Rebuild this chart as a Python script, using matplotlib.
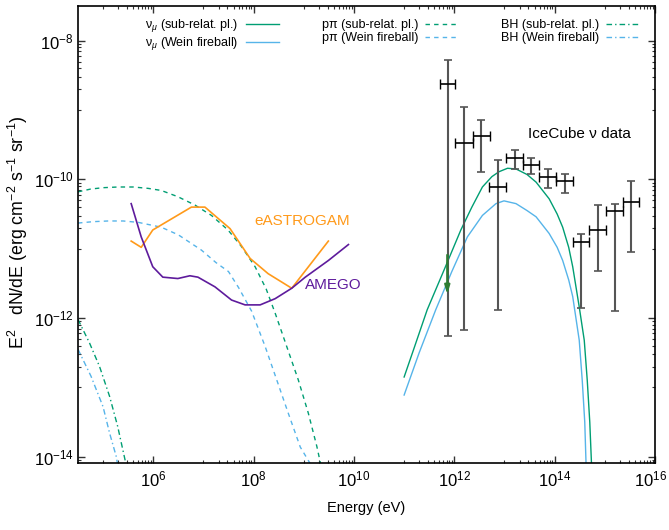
import numpy as np
import matplotlib
matplotlib.use("Agg")
import matplotlib.pyplot as plt
from matplotlib.ticker import NullFormatter
from matplotlib.transforms import ScaledTranslation

plt.rcParams["font.family"] = ["Liberation Sans", "DejaVu Sans"]
plt.rcParams["mathtext.fontset"] = "custom"
plt.rcParams["mathtext.rm"] = "Liberation Sans"
plt.rcParams["mathtext.it"] = "Liberation Sans:italic"
plt.rcParams["mathtext.sf"] = "Liberation Sans"

GREEN = "#009e73"
BLUE = "#56b4e9"
ORANGE = "#ff9a1a"
PURPLE = "#5e1b9c"

# ---- model curves: log10(E/eV), log10(E^2 dN/dE) ----
nu_sub_logE = [11.0, 11.2, 11.46, 11.8, 12.13, 12.35, 12.56, 12.75, 12.89, 13.06, 13.23,
               13.45, 13.63, 13.89, 14.05, 14.16, 14.28, 14.36, 14.49, 14.59, 14.65, 14.7, 14.74]
nu_sub_logF = [-12.85, -12.43, -11.88, -11.3, -10.73, -10.4, -10.11, -9.96, -9.89, -9.84, -9.85,
               -9.93, -10.04, -10.28, -10.5, -10.69, -10.98, -11.26, -11.84, -12.32, -12.9, -13.5, -14.2]

nu_wein_logE = [11.0, 11.3, 11.63, 11.95, 12.26, 12.56, 12.83, 12.99, 13.23, 13.45, 13.63,
                13.89, 14.05, 14.16, 14.28, 14.36, 14.49, 14.55, 14.6, 14.63]
nu_wein_logF = [-13.11, -12.5, -11.88, -11.33, -10.83, -10.52, -10.35, -10.31, -10.35, -10.45, -10.54,
                -10.78, -10.98, -11.17, -11.45, -11.69, -12.32, -12.9, -13.5, -14.2]

ppi_sub_logE = [4.5, 4.75, 5.0, 5.3, 5.6, 5.9, 6.16, 6.49, 6.83, 7.16, 7.49, 7.76, 8.03,
                8.25, 8.43, 8.66, 8.89, 9.09, 9.26, 9.35]
ppi_sub_logF = [-10.18, -10.14, -10.12, -10.11, -10.11, -10.13, -10.16, -10.25, -10.37, -10.52,
                -10.73, -10.97, -11.26, -11.58, -11.93, -12.41, -12.89, -13.37, -13.85, -14.15]

ppi_wein_logE = [4.5, 4.8, 5.1, 5.4, 5.7, 6.16, 6.5, 6.96, 7.25, 7.5, 7.7, 7.96, 8.23,
                 8.46, 8.69, 8.93, 9.17]
ppi_wein_logF = [-10.63, -10.61, -10.6, -10.6, -10.62, -10.69, -10.8, -11.02, -11.2, -11.33,
                 -11.56, -11.9, -12.41, -12.89, -13.37, -13.86, -14.15]

bh_sub_logE = [4.5, 4.73, 4.93, 5.13, 5.29, 5.43, 5.47]
bh_sub_logF = [-12.02, -12.36, -12.7, -13.13, -13.56, -14.02, -14.15]

bh_wein_logE = [4.5, 4.76, 5.0, 5.13, 5.26, 5.3]
bh_wein_logF = [-12.45, -12.84, -13.28, -13.66, -13.99, -14.15]

# ---- instrument sensitivities ----
eastrogam_logE = [5.56, 5.76, 5.99, 6.76, 7.03, 7.53, 7.93, 8.29, 8.76, 9.49]
eastrogam_logF = [-10.89, -10.98, -10.73, -10.40, -10.40, -10.71, -11.14, -11.36, -11.57, -10.89]

amego_logE = [5.56, 5.76, 5.99, 6.19, 6.49, 6.73, 6.89, 7.23, 7.56, 7.83, 8.13,
              8.43, 8.76, 9.03, 9.49, 9.89]
amego_logF = [-10.35, -10.83, -11.26, -11.41, -11.43, -11.39, -11.41, -11.55, -11.74, -11.81,
              -11.81, -11.72, -11.57, -11.41, -11.17, -10.94]

# ---- IceCube neutrino data (log10 values) ----
ic_logE = [11.87, 12.20, 12.53, 12.87, 13.20, 13.53, 13.87, 14.20, 14.53, 14.87, 15.20, 15.53]
ic_logE_lo = [11.71, 12.02, 12.37, 12.69, 13.04, 13.36, 13.69, 14.03, 14.36, 14.69, 15.03, 15.36]
ic_logE_hi = [12.02, 12.37, 12.71, 13.04, 13.36, 13.69, 14.03, 14.36, 14.68, 15.03, 15.36, 15.69]
ic_logF = [-8.62, -9.48, -9.38, -10.11, -9.69, -9.79, -9.96, -10.02, -10.90, -10.73, -10.46, -10.32]
ic_logF_lo = [-12.26, -12.17, -9.89, -11.88, -9.85, -9.92, -10.13, -10.19, -11.85, -11.32, -11.90, -11.05]
ic_logF_hi = [-8.28, -8.95, -9.14, -9.72, -9.57, -9.69, -9.85, -9.92, -10.79, -10.37, -10.36, -10.02]

# upper-limit marker at the lowest-energy bin
ul_logE = 11.86
ul_logF_from, ul_logF_to = -11.09, -11.66


def p(a):
    return 10.0 ** np.asarray(a)


fig = plt.figure(figsize=(6.69, 5.30), dpi=100)
ax = fig.add_axes([78 / 669, 1 - 463 / 530, (655 - 78) / 669, (463 - 6) / 530])
ax.set_xscale("log")
ax.set_yscale("log")

lw = 1.0
dash = (0, (3.2, 3.0))
dashdot = (0, (4.0, 2.2, 1.0, 2.2))

l1, = ax.plot(p(nu_sub_logE), p(nu_sub_logF), color=GREEN, lw=lw)
l2, = ax.plot(p(nu_wein_logE), p(nu_wein_logF), color=BLUE, lw=lw)
l3, = ax.plot(p(ppi_sub_logE), p(ppi_sub_logF), color=GREEN, lw=lw, ls=dash)
l4, = ax.plot(p(ppi_wein_logE), p(ppi_wein_logF), color=BLUE, lw=lw, ls=dash)
l5, = ax.plot(p(bh_sub_logE), p(bh_sub_logF), color=GREEN, lw=lw, ls=dashdot)
l6, = ax.plot(p(bh_wein_logE), p(bh_wein_logF), color=BLUE, lw=lw, ls=dashdot)

ax.plot(p(eastrogam_logE), p(eastrogam_logF), color=ORANGE, lw=1.2)
ax.plot(p(amego_logE), p(amego_logF), color=PURPLE, lw=1.2)

E = p(ic_logE)
F = p(ic_logF)
yerr = [F - p(ic_logF_lo), p(ic_logF_hi) - F]
xerr = [E - p(ic_logE_lo), p(ic_logE_hi) - E]
ax.errorbar(E, F, yerr=yerr, fmt="none", ecolor="#555555", elinewidth=1.5,
            capsize=3, capthick=1.2)
ax.errorbar(E, F, xerr=xerr, fmt="none", ecolor="black", elinewidth=1.2,
            capsize=3.5, capthick=1.0)

ax.annotate("", xy=(p(ul_logE), p(ul_logF_to)), xytext=(p(ul_logE), p(ul_logF_from)),
            arrowprops=dict(arrowstyle="-|>,head_length=0.5,head_width=0.15",
                            color="#2e7d32", lw=1.6, shrinkA=0, shrinkB=0))

ax.text(p(8.02), p(-10.60), "eASTROGAM", color=ORANGE, fontsize=11, va="center", ha="left")
ax.text(p(9.02), p(-11.52), "AMEGO", color=PURPLE, fontsize=11, va="center", ha="left")
ax.text(p(13.46), p(-9.34), "IceCube ν data", color="black", fontsize=11, va="center", ha="left")

# labelled decades every factor 100, unlabelled minor ticks in the decades between
ax.set_xticks([10.0 ** k for k in range(6, 17, 2)])
ax.set_xticklabels([f"10$^{{{k}}}$" for k in range(6, 17, 2)])
ax.set_xticks([m * 10.0 ** k for k in range(5, 16, 2) for m in range(1, 10)], minor=True)
ax.set_yticks([10.0 ** k for k in range(-14, -7, 2)])
ax.set_yticklabels([f"10$^{{{k}}}$" for k in range(-14, -7, 2)])
ax.set_yticks([m * 10.0 ** k for k in range(-15, -7, 2) for m in range(1, 10)], minor=True)
ax.xaxis.set_minor_formatter(NullFormatter())
ax.yaxis.set_minor_formatter(NullFormatter())
ax.set_xlim(p(4.5), p(16.0))
ax.set_ylim(p(-14.09), p(-7.5))

ax.tick_params(which="both", direction="in", top=True, right=True, labelsize=12, color="#333333")
ax.tick_params(which="major", length=5, width=1.0)
ax.tick_params(axis="x", which="major", pad=5)
ax.tick_params(axis="y", which="major", pad=3)
ax.tick_params(which="minor", length=2.5, width=0.8)
for s in ax.spines.values():
    s.set_linewidth(1.2)

# keep the last energy label inside the canvas
last = ax.get_xticklabels()[-1]
last.set_transform(last.get_transform() + ScaledTranslation(-3 / 72, 0, fig.dpi_scale_trans))

ax.set_xlabel("Energy (eV)", fontsize=10.5, labelpad=8)
ax.set_ylabel("E$^2$   dN/dE (erg cm$^{-2}$ s$^{-1}$ sr$^{-1}$)", fontsize=12.8)
ax.yaxis.set_label_coords(-0.083, 0.505)

handles = [l1, l2, l3, l4, l5, l6]
labels = [r"ν$_\mu$ (sub-relat. pl.)", r"ν$_\mu$ (Wein fireball)",
          "pπ (sub-relat. pl.)", "pπ (Wein fireball)",
          "BH (sub-relat. pl.)", "BH (Wein fireball)"]
ax.legend(handles, labels, ncol=3, markerfirst=False, frameon=False, fontsize=9,
          handlelength=2.7, handletextpad=0.55, columnspacing=3.4, labelspacing=0.12,
          loc="upper right", bbox_to_anchor=(640 / 669, 1 - 17 / 530),
          bbox_transform=fig.transFigure, borderaxespad=0, borderpad=0)

fig.savefig("out.png", dpi=100)
